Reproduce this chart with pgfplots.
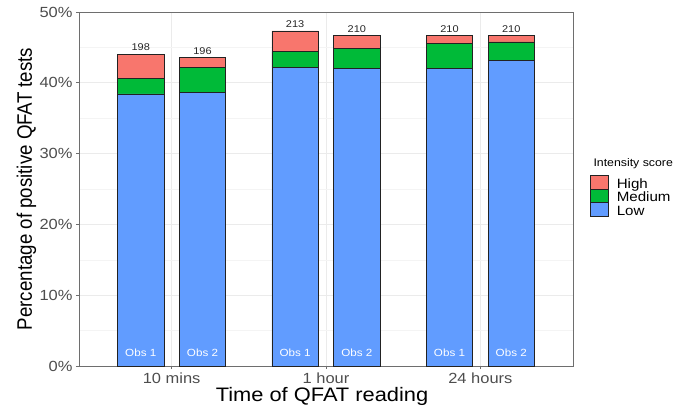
\documentclass[border=0pt]{standalone}
\usepackage{pgfplots}
\pgfplotsset{compat=1.18}
\usepackage{fontspec}
\setmainfont{Liberation Sans}[FakeStretch=1.12]
\newfontfamily\ylabfont{Liberation Sans}
\definecolor{highc}{HTML}{F8766D}
\definecolor{medc}{HTML}{00BA38}
\definecolor{lowc}{HTML}{619CFF}
\definecolor{tickc}{HTML}{4D4D4D}
\definecolor{framec}{HTML}{6E6E6E}
\definecolor{gridc}{HTML}{EBEBEB}
\definecolor{gridm}{HTML}{F4F4F4}
\definecolor{barline}{HTML}{222222}

\begin{document}
\begin{tikzpicture}
\path (-79bp,-49bp) rectangle (610bp,366bp);
\begin{axis}[
    at={(0,0)}, anchor=south west,
    scale only axis, width=494bp, height=354bp,
    xmin=0.4, xmax=3.6, ymin=0, ymax=50,
    ybar stacked, bar width=0.3,
    xtick={1,2,3}, xticklabels={10 mins,1 hour,24 hours},
    ytick={0,10,...,50}, minor ytick={5,15,...,45},
    yticklabel={\pgfmathprintnumber{\tick}\%},
    /pgf/number format/assume math mode=true,
    tick pos=left, tick align=outside,
    major tick length=3bp, minor tick length=0pt,
    axis line style={framec, line width=0.7bp},
    tick style={framec, line width=0.7bp},
    grid=both,
    major grid style={gridc, line width=0.9bp},
    minor grid style={gridm, line width=0.5bp},
    tick label style={text=tickc, font=\fontsize{14.7bp}{17bp}\selectfont},
    xlabel={Time of QFAT reading},
    ylabel={\ylabfont Percentage of positive QFAT tests},
    every axis x label/.style={at={(rel axis cs:0.5,0)}, anchor=base, yshift=-35.7bp, xshift=-4bp,
        font=\fontsize{19.5bp}{22bp}\selectfont},
    every axis y label/.style={at={(rel axis cs:0,0.5)}, xshift=-47bp, xscale=1.12, rotate=90, anchor=base,
        font=\fontsize{18.7bp}{21bp}\selectfont},
    reverse legend,
    legend image code/.code={\draw[#1, draw=barline, line width=0.6bp] (0bp,-3.8bp) rectangle (18bp,10.2bp);},
    legend style={at={(rel axis cs:1.0344,0.5395)}, anchor=north west, draw=none, fill=none,
        inner sep=0pt, row sep=-4bp,
        nodes={inner sep=0pt, text height=9.5bp, text depth=4.5bp, font=\fontsize{13.5bp}{15bp}\selectfont},
        /tikz/every odd column/.append style={column sep=8bp}},
    legend cell align=left,
]
\addplot[fill=lowc, draw=barline, line width=0.6bp] coordinates {
    (0.8,38.44) (1.2,38.67) (1.8,42.22) (2.2,42.00) (2.8,42.00) (3.2,43.11)};
\addlegendentry{Low}
\addplot[fill=medc, draw=barline, line width=0.6bp] coordinates {
    (0.8,2.22) (1.2,3.56) (1.8,2.22) (2.2,2.89) (2.8,3.56) (3.2,2.67)};
\addlegendentry{Medium}
\addplot[fill=highc, draw=barline, line width=0.6bp] coordinates {
    (0.8,3.33) (1.2,1.33) (1.8,2.89) (2.2,1.78) (2.8,1.11) (3.2,0.89)};
\addlegendentry{High}
% anchor points for the text labels (totals above, observer at the bottom)
\coordinate (t1) at (axis cs:0.8,44.00);
\coordinate (t2) at (axis cs:1.2,43.56);
\coordinate (t3) at (axis cs:1.8,47.33);
\coordinate (t4) at (axis cs:2.2,46.67);
\coordinate (t5) at (axis cs:2.8,46.67);
\coordinate (t6) at (axis cs:3.2,46.67);
\coordinate (b1) at (axis cs:0.8,0);
\coordinate (b2) at (axis cs:1.2,0);
\coordinate (b3) at (axis cs:1.8,0);
\coordinate (b4) at (axis cs:2.2,0);
\coordinate (b5) at (axis cs:2.8,0);
\coordinate (b6) at (axis cs:3.2,0);
\end{axis}
\foreach \i/\n in {1/198, 2/196, 3/213, 4/210, 5/210, 6/210}
    \node[anchor=base, inner sep=0pt, yshift=3.5bp, text=black!85,
        font=\fontsize{9.8bp}{11bp}\selectfont] at (t\i) {\n};
\foreach \i/\o in {1/1, 2/2, 3/1, 4/2, 5/1, 6/2}
    \node[anchor=base, inner sep=0pt, yshift=10bp, text=white,
        font=\fontsize{10.4bp}{12bp}\selectfont] at (b\i) {Obs \o};
\node[anchor=base west, font=\fontsize{11bp}{13bp}\selectfont] at (511bp,199.3bp) {Intensity score};
\end{tikzpicture}
\end{document}
